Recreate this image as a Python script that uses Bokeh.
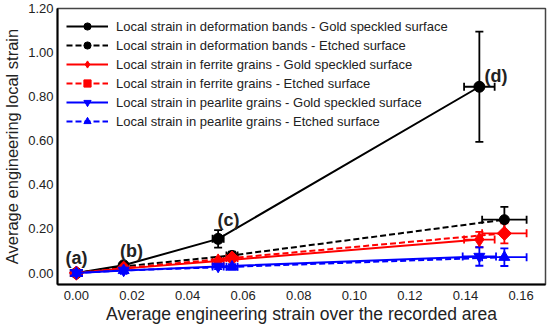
from bokeh.plotting import figure
from bokeh.models import ColumnDataSource, Whisker, TeeHead, Legend, LegendItem, Range1d, FixedTicker
from bokeh.embed import file_html
from bokeh.resources import INLINE
from bokeh.core.properties import value

# ---- data ----
x_gold = [0.0, 0.017, 0.051, 0.145]
x_etch = [0.0, 0.017, 0.056, 0.154]

bands_gold_y = [0.0, 0.035, 0.155, 0.845]
bands_gold_yerr = [0.006, 0.006, 0.04, 0.25]
bands_gold_xerr = [0.002, 0.001, 0.002, 0.0055]

bands_etch_y = [0.0, 0.03, 0.08, 0.242]
bands_etch_yerr = [0.005, 0.005, 0.017, 0.058]
bands_etch_xerr = [0.002, 0.001, 0.002, 0.008]

ferrite_gold_y = [0.0, 0.02, 0.055, 0.152]
ferrite_gold_yerr = [0.015, 0.008, 0.015, 0.035]
ferrite_gold_xerr = [0.002, 0.001, 0.002, 0.0055]

ferrite_etch_y = [0.0, 0.022, 0.068, 0.18]
ferrite_etch_yerr = [0.01, 0.008, 0.015, 0.045]
ferrite_etch_xerr = [0.002, 0.001, 0.002, 0.008]

pearlite_gold_y = [0.0, 0.012, 0.03, 0.075]
pearlite_gold_yerr = [0.01, 0.008, 0.012, 0.042]
pearlite_gold_xerr = [0.002, 0.001, 0.002, 0.006]

pearlite_etch_y = [0.0, 0.012, 0.028, 0.072]
pearlite_etch_yerr = [0.01, 0.008, 0.012, 0.04]
pearlite_etch_xerr = [0.002, 0.001, 0.002, 0.008]

labels = ["Local strain in deformation bands - Gold speckled surface",
          "Local strain in deformation bands - Etched surface",
          "Local strain in ferrite grains - Gold speckled surface",
          "Local strain in ferrite grains - Etched surface",
          "Local strain in pearlite grains - Gold speckled surface",
          "Local strain in pearlite grains - Etched surface"]

x_ticks = [0.0, 0.02, 0.04, 0.06, 0.08, 0.10, 0.12, 0.14, 0.16]
y_ticks = [0.0, 0.2, 0.4, 0.6, 0.8, 1.0, 1.2]

point_tags = ["(a)", "(b)", "(c)", "(d)"]
tag_x = [0.0, 0.0198, 0.0547, 0.151]
tag_y = [0.07, 0.10, 0.24, 0.895]

FONT = "Liberation Sans"

p = figure(frame_width=488, frame_height=276, output_backend="svg", toolbar_location=None,
           x_range=Range1d(-0.0068, 0.1688), y_range=Range1d(-0.052, 1.2),
           min_border_left=0, min_border_right=4, min_border_top=8, min_border_bottom=0)
p.xgrid.visible = False
p.ygrid.visible = False
p.outline_line_color = "#444444"
p.outline_line_width = 1.5

for ax in (p.xaxis[0], p.yaxis[0]):
    ax.axis_line_color = "black"
    ax.axis_line_width = 2
    ax.major_tick_line_color = None
    ax.minor_tick_line_color = None
    ax.major_tick_out = 0
    ax.major_tick_in = 0
    ax.minor_tick_out = 0
    ax.minor_tick_in = 0
    ax.major_label_text_font = FONT
    ax.major_label_text_font_size = "13px"
    ax.major_label_text_color = "#222222"
    ax.axis_label_text_font = FONT
    ax.axis_label_text_font_style = "normal"
    ax.axis_label_text_color = "#222222"
    ax.major_label_standoff = 4
    ax.axis_label_standoff = 4

p.xaxis.ticker = FixedTicker(ticks=x_ticks)
p.yaxis.ticker = FixedTicker(ticks=y_ticks)
p.xaxis.major_label_overrides = {t: f"{t:.2f}" for t in x_ticks}
p.yaxis.major_label_overrides = {t: f"{t:.2f}" for t in y_ticks}
p.xaxis.axis_label = "Average engineering strain over the recorded area"
p.yaxis.axis_label = "Average engineering local strain"
p.xaxis.axis_label_text_font_size = "17.5px"
p.yaxis.axis_label_text_font_size = "16.5px"
p.xaxis.major_label_standoff = 6
p.xaxis.axis_label_standoff = 1

series = [
    (x_gold, bands_gold_y, bands_gold_yerr, bands_gold_xerr, "black", "solid", "circle", 11, 0.0),
    (x_etch, bands_etch_y, bands_etch_yerr, bands_etch_xerr, "black", "dashed", "circle", 10, 0.0),
    (x_gold, ferrite_gold_y, ferrite_gold_yerr, ferrite_gold_xerr, "red", "solid", "diamond", 14, 0.0),
    (x_etch, ferrite_etch_y, ferrite_etch_yerr, ferrite_etch_xerr, "red", "dashed", "square", 10, 0.785398),
    (x_gold, pearlite_gold_y, pearlite_gold_yerr, pearlite_gold_xerr, "blue", "solid", "inverted_triangle", 11, 0.0),
    (x_etch, pearlite_etch_y, pearlite_etch_yerr, pearlite_etch_xerr, "blue", "dashed", "triangle", 11, 0.0),
]

items = []
for (xs, ys, ye, xe, col, dash, mk, sz, ang), lab in zip(series, labels):
    src = ColumnDataSource(dict(
        x=xs, y=ys,
        ylo=[a - b for a, b in zip(ys, ye)], yhi=[a + b for a, b in zip(ys, ye)],
        xlo=[a - b for a, b in zip(xs, xe)], xhi=[a + b for a, b in zip(xs, xe)],
    ))
    ln = p.line("x", "y", source=src, line_color=col, line_width=2,
                line_dash="6 3" if dash == "dashed" else "solid")
    p.add_layout(Whisker(source=src, base="x", lower="ylo", upper="yhi", dimension="height",
                         line_color=col, line_width=1.8,
                         upper_head=TeeHead(size=8, line_color=col, line_width=1.8),
                         lower_head=TeeHead(size=8, line_color=col, line_width=1.8)))
    p.add_layout(Whisker(source=src, base="y", lower="xlo", upper="xhi", dimension="width",
                         line_color=col, line_width=1.8,
                         upper_head=TeeHead(size=8, line_color=col, line_width=1.8),
                         lower_head=TeeHead(size=8, line_color=col, line_width=1.8)))
    sc = p.scatter("x", "y", source=src, marker=mk, size=sz, angle=ang,
                   fill_color=col, line_color=col)
    items.append(LegendItem(label=lab, renderers=[ln, sc]))

legend = Legend(items=items, location="top_left", border_line_alpha=0, background_fill_alpha=0,
                label_text_font=FONT, label_text_font_size="13px", label_text_color="#222222",
                glyph_width=42, glyph_height=18, label_height=18, spacing=1,
                margin=4, padding=5, label_standoff=8)
p.add_layout(legend)

tsrc = ColumnDataSource(dict(x=tag_x, y=tag_y, t=point_tags))
p.text("x", "y", text="t", source=tsrc, text_font=value(FONT), text_font_size="18px",
       text_font_style="bold", text_color="#222222", text_align="center", text_baseline="middle")

open("out.html", "w").write(file_html(p, INLINE))
